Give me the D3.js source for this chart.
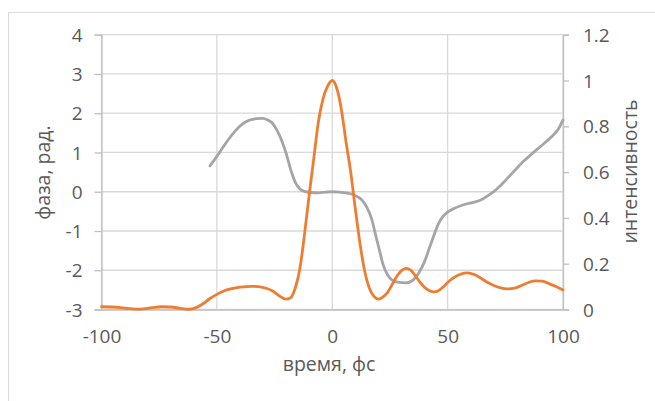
<!DOCTYPE html>
<html><head><meta charset="utf-8">
<script src="https://cdn.jsdelivr.net/npm/d3@7"></script>
<style>
body{margin:0;background:#fff;}
svg{display:block;font-family:"Open Sans",sans-serif;}
</style></head>
<body><svg id="c" width="655" height="401"></svg>
<script>
// intensity (right axis)
const intensityT = [-100,-95,-90,-85,-82,-78,-74,-70,-66,-62,-59,-56,-53,-50,-47,-44,-41,-38,-35,-32,-29,-26,-23,-20,-18,-16,-14,-12,-10,-8,-6,-4,-2,0,2,4,6,8,10,12,14,16,18,20,22,24,26,28,30,32,34,36,38,40,42,44,46,48,50,52,55,58,61,64,67,70,73,76,79,82,85,88,91,94,97,100];
const intensityV = [0.012,0.011,0.006,0.002,0.003,0.008,0.012,0.011,0.005,0.001,0.008,0.025,0.048,0.066,0.081,0.090,0.096,0.099,0.101,0.100,0.094,0.082,0.060,0.045,0.052,0.095,0.180,0.33,0.50,0.66,0.82,0.92,0.975,1.0,0.965,0.87,0.73,0.60,0.44,0.29,0.17,0.095,0.058,0.045,0.055,0.075,0.11,0.145,0.17,0.18,0.172,0.148,0.12,0.097,0.083,0.077,0.082,0.098,0.118,0.135,0.152,0.16,0.155,0.14,0.12,0.105,0.094,0.09,0.093,0.105,0.118,0.125,0.124,0.113,0.1,0.085];
// phase (left axis)
const phaseT = [-53,-50,-47.5,-45,-42,-39,-36,-33,-30,-28,-26,-24,-22,-20,-18,-16,-14,-12,-9,-6,-3,0,3,6,9,11,13,15,17,19,20.5,22,24,26,29,32,35,37.5,40,42,44,46,48,50,53,56,59,62,65,68,71,74,77,80,83,86,89,92,95,98,100];
const phaseV = [0.66,0.90,1.12,1.33,1.55,1.72,1.82,1.86,1.87,1.83,1.75,1.57,1.32,0.98,0.56,0.24,0.07,0.01,-0.02,-0.03,-0.01,0.0,-0.01,-0.03,-0.07,-0.13,-0.22,-0.40,-0.68,-1.15,-1.50,-1.85,-2.12,-2.25,-2.31,-2.32,-2.25,-2.07,-1.78,-1.45,-1.12,-0.82,-0.63,-0.52,-0.42,-0.35,-0.30,-0.26,-0.19,-0.08,0.05,0.22,0.41,0.60,0.78,0.94,1.09,1.24,1.40,1.60,1.83];
const xTicks = [-100,-50,0,50,100];
const yLeftTicks = [-3,-2,-1,0,1,2,3,4];
const yRightTicks = [0,0.2,0.4,0.6,0.8,1,1.2];
const yRightLabels = ["0","0.2","0.4","0.6","0.8","1","1.2"];

const svg = d3.select("#c");
const L=101.5, R=563, T=34.7, B=309.5;
const x = d3.scaleLinear().domain([-100,100]).range([L,R]);
const yL = d3.scaleLinear().domain([-3,4]).range([B,T]);
const yR = d3.scaleLinear().domain([0,1.2]).range([B,T]);
const grid="#D9D9D9", axisC="#BFBFBF", txt="#595959";
const tickFont = 19, titleFont = 19.5;

svg.append("rect").attr("x",8.5).attr("y",12.5).attr("width",700).attr("height",420)
  .attr("fill","#fff").attr("stroke",grid);

// grid
svg.append("g").selectAll("line").data(yLeftTicks).join("line")
  .attr("x1",L).attr("x2",R).attr("y1",d=>yL(d)).attr("y2",d=>yL(d))
  .attr("stroke",grid).attr("stroke-width",1.3);
svg.append("g").selectAll("line").data(xTicks).join("line")
  .attr("x1",d=>x(d)).attr("x2",d=>x(d)).attr("y1",T).attr("y2",B)
  .attr("stroke",grid).attr("stroke-width",1.3);

// left axis
const gl = svg.append("g").attr("transform",`translate(${L},0)`)
  .call(d3.axisLeft(yL).tickValues(yLeftTicks).tickSize(7).tickPadding(12).tickFormat(d=>String(d)));
// right axis
const gr = svg.append("g").attr("transform",`translate(${R},0)`)
  .call(d3.axisRight(yR).tickValues(yRightTicks).tickSize(6).tickPadding(14).tickFormat((d,i)=>yRightLabels[i]));
// bottom axis
const gb = svg.append("g").attr("transform",`translate(0,${B})`)
  .call(d3.axisBottom(x).tickValues(xTicks).tickSize(0).tickPadding(20).tickFormat(d=>String(d)));
[gl,gr,gb].forEach(g=>{
  g.select(".domain").attr("stroke",axisC).attr("stroke-width",1.3);
  g.selectAll(".tick line").attr("stroke",axisC).attr("stroke-width",1.3);
  g.selectAll(".tick text").attr("fill",txt).attr("font-size",tickFont).attr("font-family","Open Sans");
});
gl.selectAll(".tick text").attr("dy","0.35em");
gr.selectAll(".tick text").attr("dy","0.35em");

// lines
const lineL = d3.line().x(d=>x(d[0])).y(d=>yL(d[1])).curve(d3.curveMonotoneX);
const lineR = d3.line().x(d=>x(d[0])).y(d=>yR(d[1])).curve(d3.curveMonotoneX);
svg.append("path").datum(d3.zip(phaseT,phaseV)).attr("d",lineL)
  .attr("fill","none").attr("stroke","#A5A5A5").attr("stroke-width",2.8).attr("stroke-linejoin","round").attr("stroke-linecap","round");
svg.append("path").datum(d3.zip(intensityT,intensityV)).attr("d",lineR)
  .attr("fill","none").attr("stroke","#ED7D31").attr("stroke-width",2.8).attr("stroke-linejoin","round").attr("stroke-linecap","round");

// titles
svg.append("text").attr("x",329).attr("y",371).attr("text-anchor","middle")
  .attr("fill",txt).attr("font-size",titleFont).text("время, фс");
svg.append("text").attr("transform",`translate(50,172.5) rotate(-90)`).attr("text-anchor","middle")
  .attr("fill",txt).attr("font-size",titleFont).text("фаза, рад.");
svg.append("text").attr("transform",`translate(637,171.5) rotate(-90)`).attr("text-anchor","middle")
  .attr("fill",txt).attr("font-size",titleFont).text("интенсивность");
</script></body></html>
